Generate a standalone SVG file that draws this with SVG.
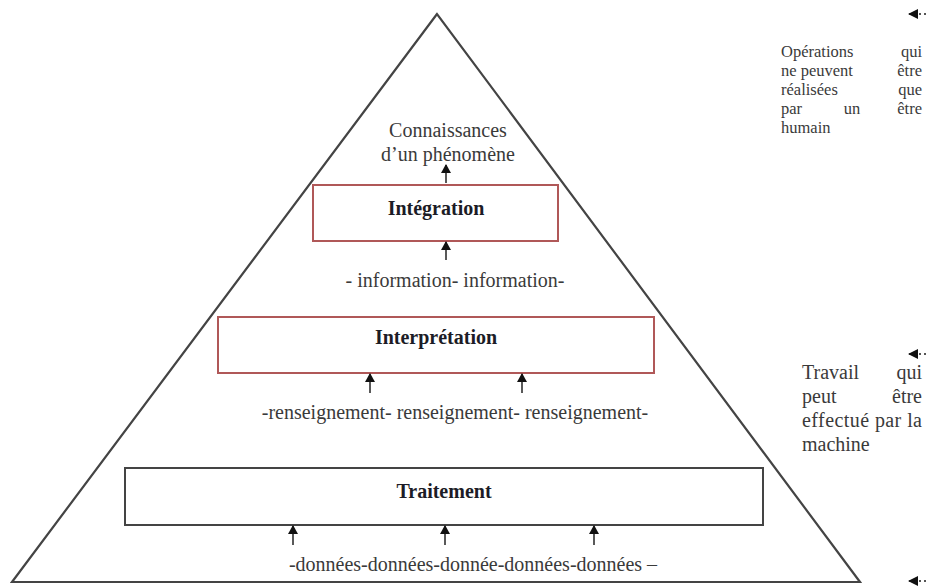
<svg xmlns="http://www.w3.org/2000/svg" width="929" height="586" viewBox="0 0 929 586">
<style>
.t{font-family:"Liberation Serif","Times New Roman",serif;font-size:20px;fill:#3a3a3a}
.s{font-family:"Liberation Serif","Times New Roman",serif;font-size:16.5px;fill:#3a3a3a}
.b{font-family:"Liberation Serif","Times New Roman",serif;font-size:20px;font-weight:bold;fill:#1c1c26}
.c{text-anchor:middle}
.e{text-anchor:end}
.red{fill:none;stroke:#b05858;stroke-width:2}
.blk{fill:none;stroke:#444;stroke-width:2}
.ar{stroke:#222;stroke-width:1.5;fill:none;marker-end:url(#ah)}
.dot{stroke:#555;stroke-width:2;stroke-dasharray:2 3;fill:none}
</style>
<defs>
<marker id="ah" markerWidth="10" markerHeight="10" refX="8" refY="5" orient="auto" markerUnits="userSpaceOnUse">
<path d="M0,0 L9,5 L0,10 Z" fill="#111"/>
</marker>
<marker id="ah2" markerWidth="10" markerHeight="10" refX="1" refY="5" orient="auto" markerUnits="userSpaceOnUse">
<path d="M10,0 L0,5 L10,10 Z" fill="#111"/>
</marker>
</defs>
<g id="pyramid"><polygon points="437,14 12,582 860,582" fill="none" stroke="#444" stroke-width="2.2" stroke-linejoin="miter"/></g>
<g id="connaissances"><text class="t c" x="448" y="137">Connaissances</text><text class="t c" x="448" y="161">d’un phénomène</text></g>
<g id="integration"><rect class="red" x="313" y="185" width="245" height="56"/><text class="b c" x="436" y="215">Intégration</text></g>
<g id="information"><text class="t c" x="455" y="287">- information- information-</text></g>
<g id="interpretation"><rect class="red" x="218" y="317" width="436" height="56"/><text class="b c" x="436" y="344">Interprétation</text></g>
<g id="renseignement"><text class="t c" x="455" y="419">-renseignement- renseignement- renseignement-</text></g>
<g id="traitement"><rect class="blk" x="125" y="468" width="638" height="57"/><text class="b c" x="444" y="498">Traitement</text></g>
<g id="donnees"><text class="t c" x="473" y="571">-données-données-donnée-données-données –</text></g>
<g id="humain-note">
<text class="s" x="781" y="57">Opérations</text><text class="s e" x="922" y="57">qui</text>
<text class="s" x="781" y="76">ne peuvent</text><text class="s e" x="922" y="76">être</text>
<text class="s" x="781" y="95">réalisées</text><text class="s e" x="922" y="95">que</text>
<text class="s" x="781" y="114">par</text><text class="s c" x="852" y="114">un</text><text class="s e" x="922" y="114">être</text>
<text class="s" x="781" y="133">humain</text>
</g>
<g id="machine-note">
<text class="t" x="802" y="379">Travail</text><text class="t e" x="922" y="379">qui</text>
<text class="t" x="802" y="403">peut</text><text class="t e" x="922" y="403">être</text>
<text class="t" x="802" y="427" textLength="120" lengthAdjust="spacing">effectué par la</text>
<text class="t" x="802" y="451">machine</text>
</g>
<g id="connectors">
<line class="ar" x1="446" y1="183" x2="446" y2="165"/>
<line class="ar" x1="446" y1="260" x2="446" y2="242"/>
<line class="ar" x1="370" y1="393" x2="370" y2="374"/>
<line class="ar" x1="522" y1="393" x2="522" y2="374"/>
<line class="ar" x1="293" y1="545" x2="293" y2="526"/>
<line class="ar" x1="445" y1="545" x2="445" y2="526"/>
<line class="ar" x1="594" y1="545" x2="594" y2="526"/>
<line class="dot" x1="909" y1="14" x2="929" y2="14" marker-start="url(#ah2)"/>
<line class="dot" x1="909" y1="354" x2="929" y2="354" marker-start="url(#ah2)"/>
<line class="dot" x1="909" y1="581" x2="929" y2="581" marker-start="url(#ah2)"/>
</g>
</svg>
